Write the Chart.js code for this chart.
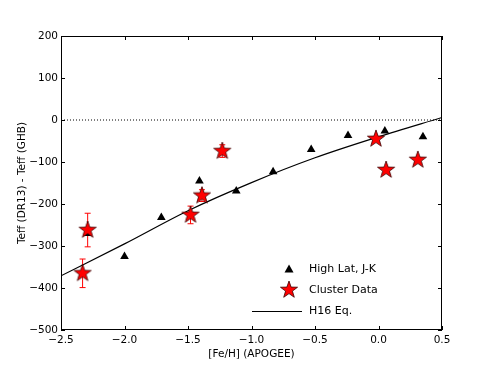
<!DOCTYPE html>
<html>
<head>
  <meta charset="UTF-8">
  <title>Teff offset vs [Fe/H]</title>
  <script src="https://cdn.jsdelivr.net/npm/chart.js"></script>
  <style>body { margin: 0; background: #fff; }</style>
</head>
<body>
<canvas id="chart" width="491" height="368"></canvas>
<script>
  // high latitude field stars (J-K)
  const triX = [-2.29, -2.00, -1.71, -1.41, -1.12, -0.83, -0.53, -0.24, 0.05, 0.35];
  const triY = [-270, -325, -232, -145, -169, -123, -70, -37, -26, -40];

  // cluster data with errors
  const starX = [-2.29, -2.33, -1.48, -1.39, -1.23, -0.02, 0.06, 0.31];
  const starY = [-262, -365, -226, -180, -74, -45, -119, -95];
  const starErr = [40, 34, 21, 14, 15, 0, 0, 0];

  // H16 relation
  const h16X = [-2.5, -2.0, -1.5, -1.0, -0.5, 0.0, 0.5];
  const h16Y = [-371, -295, -216, -149, -90, -40, 6];

  const zeroX = [-2.5, 0.5];
  const zeroY = [0, 0];

  const legendLabels = ['High Lat, J-K', 'Cluster Data', 'H16 Eq.'];

  const pts = (xs, ys) => xs.map((x, i) => ({x: x, y: ys[i]}));
  const minus = v => String(v).replace('-', '\u2212');

  // filled star marker
  function makeStar(r) {
    const c = document.createElement('canvas');
    const s = Math.ceil(r * 2 + 4);
    c.width = s; c.height = s;
    const g = c.getContext('2d');
    g.beginPath();
    for (let i = 0; i < 10; i++) {
      const rr = i % 2 === 0 ? r : r * 0.4;
      const a = -Math.PI / 2 + i * Math.PI / 5;
      const px = s / 2 + rr * Math.cos(a), py = s / 2 + rr * Math.sin(a);
      if (i === 0) g.moveTo(px, py); else g.lineTo(px, py);
    }
    g.closePath();
    g.fillStyle = '#ff0000';
    g.fill();
    g.lineWidth = 0.8;
    g.strokeStyle = '#3a0000';
    g.stroke();
    return c;
  }
  const starImg = makeStar(9);

  Chart.defaults.font.family = 'DejaVu Sans';
  Chart.defaults.color = '#000';

  const extras = {
    id: 'extras',
    beforeDatasetsDraw(chart) {
      const ctx = chart.ctx, xs = chart.scales.x, ys = chart.scales.y;
      ctx.save();
      ctx.strokeStyle = '#ff0000';
      ctx.lineWidth = 1;
      starX.forEach((x, i) => {
        if (!starErr[i]) return;
        const px = xs.getPixelForValue(x);
        const y1 = ys.getPixelForValue(starY[i] + starErr[i]);
        const y2 = ys.getPixelForValue(starY[i] - starErr[i]);
        ctx.beginPath();
        ctx.moveTo(px, y1); ctx.lineTo(px, y2);
        ctx.moveTo(px - 3, y1); ctx.lineTo(px + 3, y1);
        ctx.moveTo(px - 3, y2); ctx.lineTo(px + 3, y2);
        ctx.stroke();
      });
      ctx.restore();
    },
    afterDraw(chart) {
      const ctx = chart.ctx, a = chart.chartArea;
      const xs = chart.scales.x, ys = chart.scales.y;
      ctx.save();
      ctx.strokeStyle = '#000';
      ctx.lineWidth = 1;
      ctx.strokeRect(a.left + 0.5, a.top + 0.5, a.right - a.left - 1, a.bottom - a.top - 1);
      ctx.beginPath();
      xs.ticks.forEach(t => {
        const px = Math.round(xs.getPixelForValue(t.value)) + 0.5;
        ctx.moveTo(px, a.bottom); ctx.lineTo(px, a.bottom - 4);
        ctx.moveTo(px, a.top); ctx.lineTo(px, a.top + 4);
      });
      ys.ticks.forEach(t => {
        const py = Math.round(ys.getPixelForValue(t.value)) + 0.5;
        ctx.moveTo(a.left, py); ctx.lineTo(a.left + 4, py);
        ctx.moveTo(a.right, py); ctx.lineTo(a.right - 4, py);
      });
      ctx.stroke();

      // legend
      ctx.font = '11px "DejaVu Sans"';
      ctx.fillStyle = '#000';
      ctx.textBaseline = 'middle';
      const tx = 309;
      const rows = [269, 290, 311];
      // triangle
      ctx.beginPath();
      ctx.moveTo(289, 264.5); ctx.lineTo(293.5, 272.5); ctx.lineTo(284.5, 272.5);
      ctx.closePath(); ctx.fill();
      ctx.drawImage(starImg, 289 - starImg.width / 2, 290 - starImg.height / 2);
      ctx.beginPath();
      ctx.moveTo(252, 311.5); ctx.lineTo(302, 311.5);
      ctx.stroke();
      legendLabels.forEach((l, i) => ctx.fillText(l, tx, rows[i]));
      ctx.restore();
    }
  };

  new Chart(document.getElementById('chart'), {
    type: 'scatter',
    data: {
      datasets: [
        {
          label: 'Cluster Data',
          data: pts(starX, starY),
          pointStyle: starImg,
          order: 0
        },
        {
          label: 'High Lat, J-K',
          data: pts(triX, triY),
          pointStyle: 'triangle',
          pointRadius: 5,
          backgroundColor: '#000',
          borderColor: '#000',
          borderWidth: 0,
          order: 1
        },
        {
          label: 'H16 Eq.',
          data: pts(h16X, h16Y),
          showLine: true,
          cubicInterpolationMode: 'monotone',
          borderColor: '#000',
          borderWidth: 1.2,
          pointRadius: 0,
          order: 2
        },
        {
          label: 'zero',
          data: pts(zeroX, zeroY),
          showLine: true,
          borderColor: '#000',
          borderWidth: 1,
          borderDash: [1, 2],
          pointRadius: 0,
          order: 3
        }
      ]
    },
    options: {
      responsive: false,
      animation: false,
      layout: { padding: { left: 0, right: 49, top: 36, bottom: 0 } },
      plugins: { legend: { display: false }, tooltip: { enabled: false } },
      scales: {
        x: {
          type: 'linear',
          min: -2.5, max: 0.5,
          afterFit: s => { s.height = 38; },
          border: { display: false },
          grid: { display: false, drawTicks: false },
          ticks: {
            stepSize: 0.5, padding: 4,
            font: { size: 10.5 },
            callback: v => minus(v.toFixed(1))
          },
          title: { display: true, text: '[Fe/H] (APOGEE)', font: { size: 10.5 }, padding: { top: 0, bottom: 7 } }
        },
        y: {
          min: -500, max: 200,
          afterFit: s => { s.width = 61; },
          border: { display: false },
          grid: { display: false, drawTicks: false },
          ticks: {
            stepSize: 100, padding: 3,
            font: { size: 10.5 },
            callback: v => minus(v)
          },
          title: { display: true, text: 'Teff (DR13) - Teff (GHB)', font: { size: 10.5 }, padding: { top: 16, bottom: 0 } }
        }
      }
    },
    plugins: [extras]
  });
</script>
</body>
</html>
